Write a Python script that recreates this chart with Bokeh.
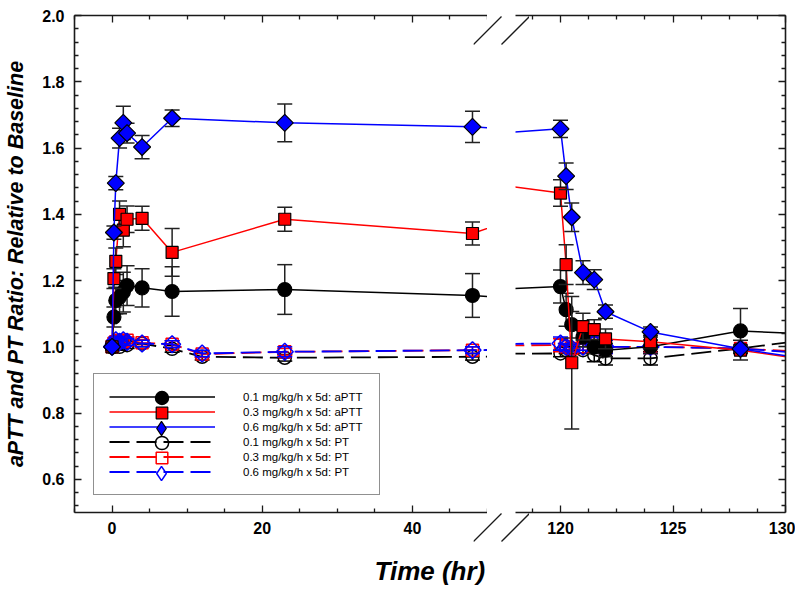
import math
from bokeh.plotting import figure
from bokeh.models import (FixedTicker, LinearAxis, Range1d, Legend, LegendItem,
                          Title, CustomJSTickFormatter, PrintfTickFormatter)
from bokeh.layouts import row
from bokeh.embed import file_html
from bokeh.resources import INLINE

# ---------------- data ----------------
t_aptt = [0, 0.25, 0.5, 1, 1.5, 2, 4, 8, 23, 48, 72, 96,
          120, 120.25, 120.5, 121, 121.5, 122, 124, 128, 132]
t_pt = [0, 0.25, 0.5, 1, 1.5, 2, 4, 8, 12, 23, 48, 72, 96,
        120, 120.25, 120.5, 121, 121.5, 122, 124, 128, 132]

aptt_01 = [1.00, 1.09, 1.14, 1.15, 1.165, 1.185, 1.178, 1.167, 1.173, 1.155, 1.12, 1.11,
           1.182, 1.112, 1.067, 1.030, 1.000, 0.990, 1.000, 1.048, 1.036]
aptt_01_sd = [0, 0.03, 0.04, 0.05, 0.06, 0.06, 0.058, 0.075, 0.075, 0.066, 0, 0,
              0.05, 0.05, 0.04, 0.03, 0.02, 0.02, 0.02, 0.068, 0]
aptt_03 = [1.00, 1.206, 1.258, 1.40, 1.352, 1.385, 1.388, 1.285, 1.385, 1.342, 1.53, 1.68,
           1.464, 1.248, 0.952, 1.061, 1.052, 1.024, 1.015, 0.990, 0.950]
aptt_03_sd = [0, 0.03, 0.04, 0.04, 0.05, 0.04, 0.036, 0.072, 0.036, 0.035, 0, 0,
              0.04, 0.06, 0.20, 0.04, 0.03, 0.03, 0.02, 0.03, 0]
aptt_06 = [1.00, 1.345, 1.494, 1.630, 1.676, 1.645, 1.603, 1.690, 1.676, 1.664, 1.628, 1.54,
           1.658, 1.515, 1.391, 1.224, 1.203, 1.106, 1.045, 0.994, 0.952]
aptt_06_sd = [0, 0.02, 0.02, 0.03, 0.05, 0.03, 0.035, 0.025, 0.057, 0.047, 0, 0,
              0.026, 0.04, 0.043, 0.036, 0.03, 0.02, 0.015, 0.01, 0]

pt_01 = [1.00, 1.00, 1.005, 1.00, 1.01, 1.005, 1.01, 0.994, 0.970, 0.967, 0.970, 0.972, 0.974,
         0.980, 0.990, 0.990, 0.990, 0.975, 0.965, 0.965, 0.995, 1.030]
pt_01_sd = [0, 0.01, 0.01, 0.01, 0.01, 0.01, 0.01, 0.01, 0.01, 0.01, 0.01, 0, 0,
            0.01, 0.01, 0.01, 0.01, 0.02, 0.02, 0.02, 0.01, 0]
pt_03 = [1.00, 1.01, 1.015, 1.02, 1.015, 1.02, 1.012, 1.008, 0.978, 0.985, 0.990, 0.995, 1.000,
         1.005, 1.000, 0.995, 1.000, 1.010, 1.000, 1.000, 0.995, 0.980]
pt_03_sd = [0, 0.01, 0.01, 0.01, 0.01, 0.01, 0.01, 0.01, 0.01, 0.01, 0.01, 0, 0,
            0.02, 0.01, 0.01, 0.01, 0.02, 0.02, 0.02, 0.01, 0]
pt_06 = [1.00, 1.01, 1.02, 1.015, 1.02, 1.015, 1.01, 1.008, 0.980, 0.985, 0.990, 0.995, 1.000,
         1.010, 1.000, 0.995, 1.000, 1.010, 1.000, 1.000, 0.995, 0.975]
pt_06_sd = [0, 0.01, 0.01, 0.01, 0.01, 0.01, 0.01, 0.01, 0.01, 0.015, 0.01, 0, 0,
            0.02, 0.01, 0.01, 0.01, 0.02, 0.02, 0.02, 0.01, 0]

labels = ["0.1 mg/kg/h x 5d: aPTT", "0.3 mg/kg/h x 5d: aPTT", "0.6 mg/kg/h x 5d: aPTT",
          "0.1 mg/kg/h x 5d: PT", "0.3 mg/kg/h x 5d: PT", "0.6 mg/kg/h x 5d: PT"]

y_ticks = [0.6, 0.8, 1.0, 1.2, 1.4, 1.6, 1.8, 2.0]
y_minor = [0.52, 0.56, 0.64, 0.68, 0.72, 0.76, 0.84, 0.88, 0.92, 0.96, 1.04, 1.08, 1.12, 1.16,
           1.24, 1.28, 1.32, 1.36, 1.44, 1.48, 1.52, 1.56, 1.64, 1.68, 1.72, 1.76,
           1.84, 1.88, 1.92, 1.96]
xl_ticks = [0, 20, 40]
xl_minor = [-5, 5, 10, 15, 25, 30, 35, 45, 50]
xr_ticks = [120, 125, 130]
xr_minor = [118.75, 121.25, 122.5, 123.75, 126.25, 127.5, 128.75]

# ---------------- layout constants ----------------
FONT = "Liberation Sans"
AX = "#1a1a1a"
FL, FT, FH = 74, 15, 497          # left-frame left edge, frame top, frame height
W1, W2, GAP = 413, 270, 28        # frame widths, axis-break gap
H = 590
FB = FT + FH
SL = 14                           # half length of a break slash

yr = Range1d(0.5, 2.0)


def style_axis(ax, ticks, minor, labels_on=True):
    ax.ticker = FixedTicker(ticks=ticks, minor_ticks=minor)
    ax.axis_line_color = AX
    ax.axis_line_width = 1.6
    ax.major_tick_line_color = AX
    ax.minor_tick_line_color = AX
    ax.major_tick_line_width = 1.3
    ax.minor_tick_line_width = 1.3
    ax.major_tick_in = 7
    ax.major_tick_out = 0
    ax.minor_tick_in = 4
    ax.minor_tick_out = 0
    if labels_on:
        ax.major_label_text_font = FONT
        ax.major_label_text_font_style = "bold"
        ax.major_label_text_font_size = "16px"
        ax.major_label_text_color = "black"
    else:
        ax.formatter = CustomJSTickFormatter(code="return ''")
        ax.major_label_text_font_size = "0px"
        ax.major_label_standoff = 0


def make_fig(xr, w, bl, br, yaxis_left, transparent=False):
    p = figure(x_range=xr, y_range=yr, frame_width=w, frame_height=FH,
               output_backend="svg", toolbar_location=None,
               y_axis_location="left" if yaxis_left else None,
               min_border_left=bl, min_border_right=br, min_border_top=FT,
               min_border_bottom=H - FB)
    p.outline_line_color = None
    p.xgrid.grid_line_color = None
    p.ygrid.grid_line_color = None
    if transparent:
        p.background_fill_color = None
        p.border_fill_color = None
    else:
        p.background_fill_color = "white"
        p.border_fill_color = "white"
    return p


p1 = make_fig(Range1d(-5, 50), W1, FL, 0, True)
p2 = make_fig(Range1d(118, 130), W2, 0, 10, False, transparent=True)

style_axis(p1.xaxis[0], xl_ticks, xl_minor)
p1.xaxis[0].major_label_standoff = 9
style_axis(p1.yaxis[0], y_ticks, y_minor)
p1.yaxis[0].formatter = PrintfTickFormatter(format="%.1f")
p1.yaxis[0].major_label_standoff = 10
p1.yaxis[0].axis_label = "aPTT and PT Ratio: Relative to Baseline"
p1.yaxis[0].axis_label_text_font = FONT
p1.yaxis[0].axis_label_text_font_style = "bold italic"
p1.yaxis[0].axis_label_text_font_size = "21.5px"
p1.yaxis[0].axis_label_standoff = 11
p1.yaxis[0].axis_label_text_color = "black"
top1 = LinearAxis()
style_axis(top1, xl_ticks, xl_minor, labels_on=False)
p1.add_layout(top1, "above")

style_axis(p2.xaxis[0], xr_ticks, xr_minor)
p2.xaxis[0].major_label_standoff = 9
top2 = LinearAxis()
style_axis(top2, xr_ticks, xr_minor, labels_on=False)
p2.add_layout(top2, "above")
right2 = LinearAxis()
style_axis(right2, y_ticks, y_minor, labels_on=False)
p2.add_layout(right2, "right")

DIAMOND_ANGLE = math.pi / 4
series = [
    # (t, y, sd, color, marker, size, fill, dash, lw, eb_color, legend_marker)
    (t_pt, pt_01, pt_01_sd, "black", "circle", 13, None, "20 7", 1.8, "black", "circle"),
    (t_pt, pt_03, pt_03_sd, "red", "square", 12, None, "20 7", 1.8, "red", "square"),
    (t_pt, pt_06, pt_06_sd, "blue", "square", 12, None, "20 7", 1.8, "blue", "diamond"),
    (t_aptt, aptt_01, aptt_01_sd, "black", "circle", 14, "black", "solid", 1.5, "#222222", "circle"),
    (t_aptt, aptt_03, aptt_03_sd, "red", "square", 12, "red", "solid", 1.5, "#222222", "square"),
    (t_aptt, aptt_06, aptt_06_sd, "blue", "square", 12, "blue", "solid", 1.5, "#222222", "diamond"),
]
leg_order = [3, 4, 5, 0, 1, 2]
leg_marker_box = {3: 33, 4: 29, 5: 36, 0: 33, 1: 29, 2: 36}

line_r, mark_r = {}, {}
for p in (p1, p2):
    for i, (t, y, sd, col, mk, sz, fill, dash, lw, ebc, lmk) in enumerate(series):
        ang = DIAMOND_ANGLE if lmk == "diamond" else 0
        tt = [a for a, s in zip(t, sd) if s > 0]
        lo = [v - s for v, s in zip(y, sd) if s > 0]
        hi = [v + s for v, s in zip(y, sd) if s > 0]
        ln = p.line(t, y, line_color=col, line_width=lw, line_dash=dash)
        p.segment(tt, lo, tt, hi, line_color=ebc, line_width=1.5)
        p.scatter(tt, lo, marker="dash", size=15, line_color=ebc, line_width=1.5)
        p.scatter(tt, hi, marker="dash", size=15, line_color=ebc, line_width=1.5)
        if fill is None:
            kw = dict(fill_color=None, line_color=col, line_width=1.5)
        else:
            kw = dict(fill_color=fill, line_color="black", line_width=1.2)
        sc = p.scatter(t, y, marker=mk, size=sz, angle=ang, **kw)
        if p is p1:
            line_r[i] = ln
            if lmk == mk and ang == 0:
                mark_r[i] = sc
            else:
                # legend-only swatch renderer (not drawn in the plot)
                mark_r[i] = p.scatter(t, y, marker=lmk, size=sz, visible=False, **kw)

# main legend box: lines + labels
LEG_X, LEG_Y, PAD, ROW, GW = 19, 17, 15, 15, 106
items = [LegendItem(label=labels[k], renderers=[line_r[idx]])
         for k, idx in enumerate(leg_order)]
legend = Legend(items=items, location=(LEG_X, LEG_Y), padding=PAD, spacing=0,
                glyph_height=ROW, glyph_width=GW, label_standoff=28, label_width=121,
                label_height=ROW, margin=0,
                label_text_font=FONT, label_text_font_size="11.5px",
                label_text_color="black", label_text_baseline="middle",
                border_line_color="#222222", border_line_width=1.5,
                background_fill_color="white", background_fill_alpha=1.0)
p1.add_layout(legend, "center")

# full-size legend markers drawn on top of each legend row
n = len(leg_order)
box_top = LEG_Y + 2 * PAD + n * ROW          # from frame bottom
cx = LEG_X + PAD + GW / 2
for k, idx in enumerate(leg_order):
    gh = leg_marker_box[idx]
    cy = box_top - PAD - ROW / 2 - k * ROW
    ml = Legend(items=[LegendItem(label=" ", renderers=[mark_r[idx]])],
                location=(cx - gh / 2, cy - gh / 2), padding=0, spacing=0,
                glyph_height=gh, glyph_width=gh, label_standoff=0, label_width=0,
                label_height=gh, margin=0, label_text_font_size="1px",
                border_line_color=None, background_fill_alpha=0,
                inactive_fill_alpha=0)
    p1.add_layout(ml, "center")

# x-axis title spanning both panels
p1.add_layout(Title(text="Time (hr)", align="left", offset=300, standoff=35,
                    text_font=FONT, text_font_style="bold italic",
                    text_font_size="26px", text_color="black"), "below")

# overlay with the axis-break slashes, straddling the gap
OW = GAP + 2 * SL
ov = figure(x_range=Range1d(0, OW), y_range=Range1d(H, 0), frame_width=OW, frame_height=H,
            output_backend="svg", toolbar_location=None, x_axis_location=None,
            y_axis_location=None, min_border=0, margin=(0, -SL, 0, -SL))
ov.outline_line_color = None
ov.xgrid.grid_line_color = None
ov.ygrid.grid_line_color = None
ov.background_fill_color = None
ov.border_fill_color = None
for yc in (FT, FB):
    for xc in (SL, SL + GAP):
        ov.segment(xc - SL, yc + SL, xc + SL, yc - SL, line_color=AX, line_width=1.3)

layout = row(p1, ov, p2)
open("out.html", "w").write(file_html(layout, INLINE))
